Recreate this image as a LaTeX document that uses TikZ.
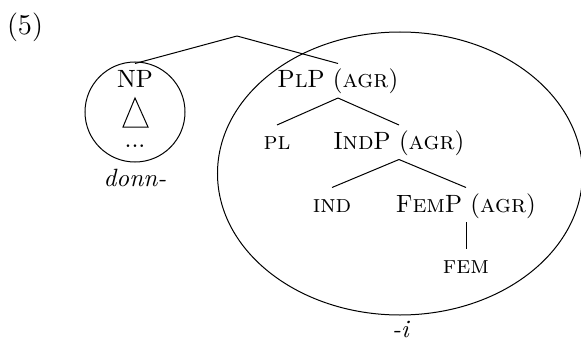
\documentclass[tikz,border=0pt]{standalone}
\usetikzlibrary{shapes.geometric}
\begin{document}
\begin{tikzpicture}[x=0.4pt,y=-0.4pt,
  tn/.style={inner sep=0pt,text height=9.6pt,text depth=3.8pt,anchor=base},
  lbl/.style={inner sep=0pt,anchor=base},
  branch/.style={line width=0.4pt}]
\useasboundingbox (0,0) rectangle (581,340);

% example number
\node[lbl,font=\fontsize{11.5}{14}\selectfont] (ex) at (25,34.8) {(5)};

% top of the tree
\coordinate (root) at (237,36);

% the NP part, circled
\node[tn] (np) at (135,88) {NP};
\node[draw,circle,minimum size=40pt,inner sep=0pt] (npc) at (135,112) {};
\draw (135,98) -- (123,127) -- (148,127) -- cycle;
\node[lbl] (dots) at (135,147) {...};
\node[lbl] (donn) at (135,186) {\textit{donn-}};

% the agreement spine, inside the ellipse
\node[draw,ellipse,minimum width=146pt,minimum height=113.2pt,inner sep=0pt] (agrzone) at (400,173.5) {};
\node[tn] (plp) at (338,88) {P\textsc{l}P (\textsc{agr})};
\node[tn] (pl) at (277,149.5) {\textsc{pl}};
\node[tn] (indp) at (399,149.5) {I\textsc{nd}P (\textsc{agr})};
\node[tn] (ind) at (332,212) {\textsc{ind}};
\node[tn] (femp) at (466,212) {F\textsc{em}P (\textsc{agr})};
\node[tn] (fem) at (466,273) {\textsc{fem}};
\node[lbl] (suffix) at (401,337) {\textit{-i}};

% branches
\draw[branch] (root) -- (np.north);
\draw[branch] (root) -- (plp.north);
\draw[branch] (plp.south) -- (pl.north);
\draw[branch] (plp.south) -- (indp.north);
\draw[branch] (indp.south) -- (ind.north);
\draw[branch] (indp.south) -- (femp.north);
\draw[branch] (femp.south) -- (fem.north);
\end{tikzpicture}
\end{document}
